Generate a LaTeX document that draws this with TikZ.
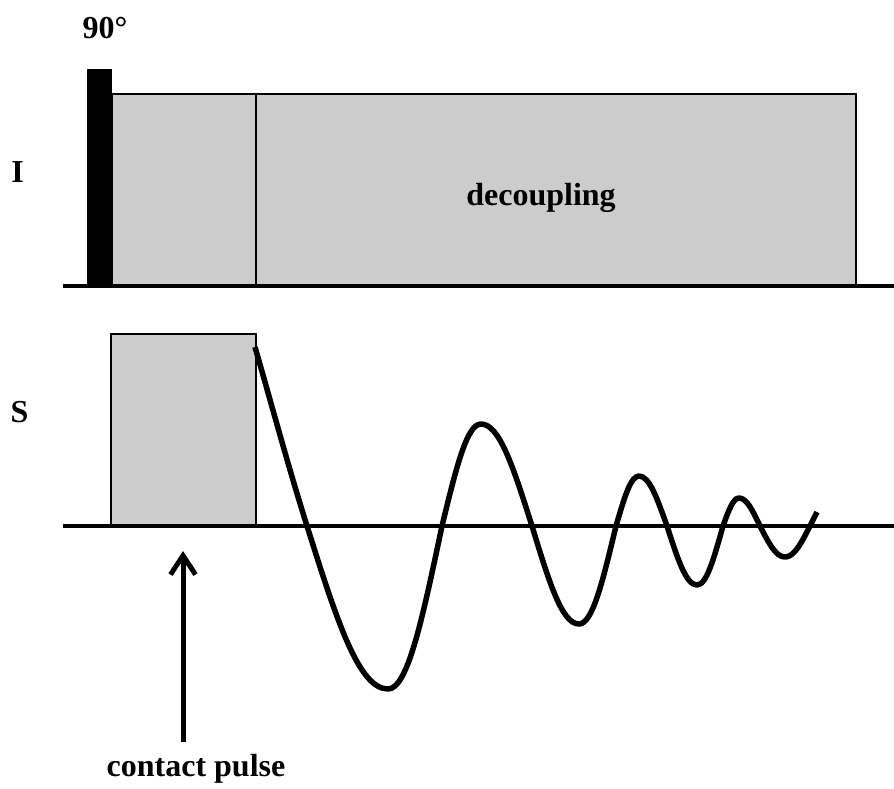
\documentclass[tikz,border=0pt]{standalone}
\usepackage{fontspec}
\setmainfont{Liberation Serif}
\usetikzlibrary{arrows.meta}
\definecolor{boxgray}{RGB}{204,204,204}
\tikzset{
  lbl/.style={inner sep=0pt, anchor=base, font=\bfseries\fontsize{32}{36}\selectfont},
  graybox/.style={draw=black, line width=1.6pt, fill=boxgray},
  axisline/.style={line width=4pt},
  fidline/.style={line width=5.5pt, line join=round},
  pulsearrow/.style={line width=5pt, -{Straight Barb[length=19pt,width=25pt,line width=5pt]}}
}
\begin{document}
\begin{tikzpicture}[x=1pt,y=-1pt]
\useasboundingbox (0,0) rectangle (894,788);
% I channel
\fill[boxgray] (112,94) rectangle (856,286);
\draw[graybox] (112,94) rectangle (256,286);
\draw[graybox] (256,94) rectangle (856,286);
\fill[black] (87,69) rectangle (112,286);
\draw[axisline] (63,286) -- (894,286);
% S channel
\draw[graybox] (111,334) rectangle (256,526);
\draw[axisline] (63,526) -- (894,526);
% FID
\draw[fidline] (255,347)
  .. controls (272,406) and (289,469) .. (307,526)
  .. controls (336.5,619.2) and (358.5,689) .. (388,689)
  .. controls (407.7,689) and (422.3,619.2) .. (442,526)
  .. controls (456.2,467.7) and (466.8,424) .. (481,424)
  .. controls (499.6,424) and (513.4,467.7) .. (532,526)
  .. controls (549.1,582.1) and (561.9,624) .. (579,624)
  .. controls (592.5,624) and (602.5,582.1) .. (616,526)
  .. controls (624.4,497.4) and (630.6,476) .. (639,476)
  .. controls (649.2,476) and (656.8,497.4) .. (667,526)
  .. controls (677.9,559.7) and (686.1,585) .. (697,585)
  .. controls (706.5,585) and (713.5,559.7) .. (723,526)
  .. controls (728.8,510) and (733.2,498) .. (739,498)
  .. controls (746.6,498) and (752.4,510) .. (760,526)
  .. controls (769.1,543.7) and (775.9,557) .. (785,557)
  .. controls (794.1,557) and (800.9,543.7) .. (810,526)
  -- (817,512);
% labels
\node[lbl] (ninety) at (105,38) {90°};
\node[lbl] (decoup) at (541,205) {decoupling};
\node[lbl] (chI) at (17.5,182) {I};
\node[lbl] (chS) at (19.5,422) {S};
\node[lbl] (contact) at (196,776) {contact pulse};
% arrow
\coordinate (arrbase) at (183,742);
\coordinate (arrtip) at (183,551);
\draw[pulsearrow] (arrbase) -- (arrtip);
\end{tikzpicture}
\end{document}
